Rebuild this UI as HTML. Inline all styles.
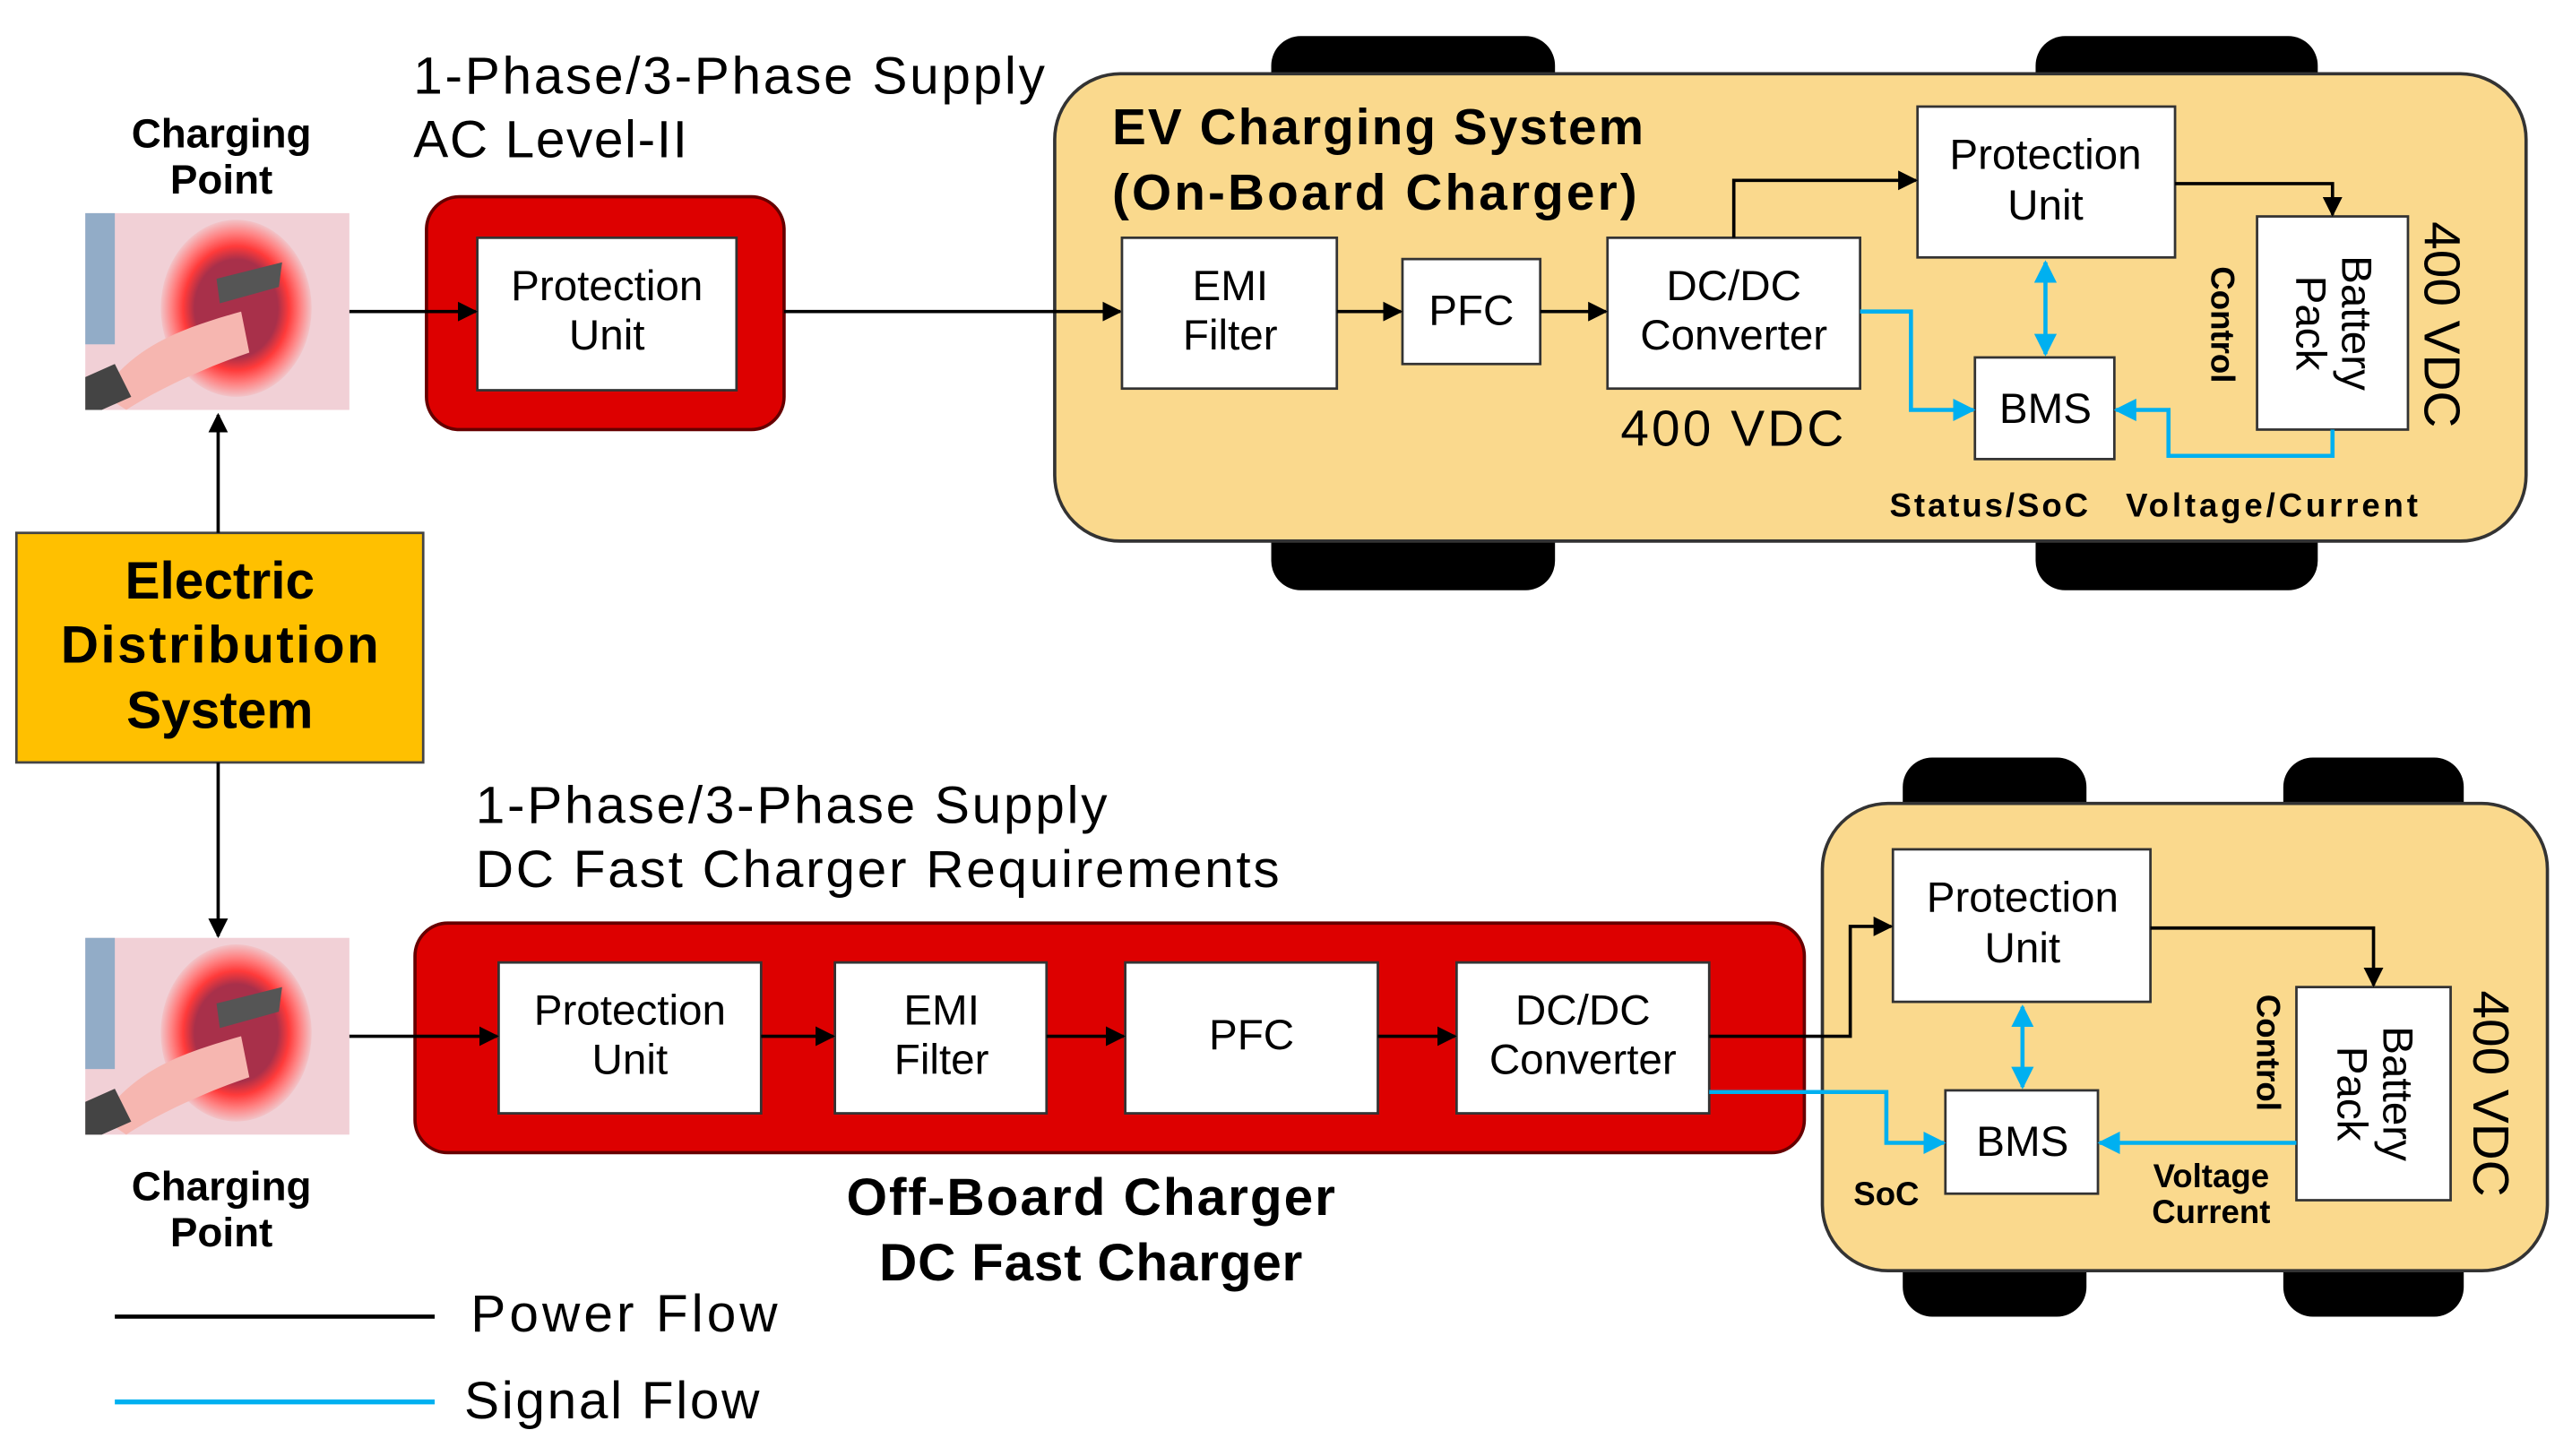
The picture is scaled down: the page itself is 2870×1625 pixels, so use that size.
<!DOCTYPE html>
<html><head><meta charset="utf-8"><style>
html,body{margin:0;padding:0;background:#fff;}
svg{display:block;}
text{font-family:"Liberation Sans",sans-serif;}
.b{font-weight:bold;}
</style></head><body>
<svg width="2870" height="1625" viewBox="0 0 1568 888" preserveAspectRatio="none" xmlns="http://www.w3.org/2000/svg">
<defs>
<marker id="ak" viewBox="0 0 10 10" refX="9" refY="5" markerWidth="6" markerHeight="6" orient="auto-start-reverse"><path d="M0,0L10,5L0,10z" fill="#000"/></marker>
<marker id="ab" viewBox="0 0 10 10" refX="9" refY="5" markerWidth="5.5" markerHeight="5.5" orient="auto-start-reverse"><path d="M0,0L10,5L0,10z" fill="#00b0f0"/></marker>
<radialGradient id="rg" cx="0.5" cy="0.5" r="0.5"><stop offset="0.55" stop-color="#a8304a"/><stop offset="0.7" stop-color="#ff3a3a"/><stop offset="0.85" stop-color="#ff8080"/><stop offset="1" stop-color="#f2c4c8"/></radialGradient>
<g id="chg">
<rect x="0" y="0" width="161" height="120" fill="#f1d0d6"/>
<rect x="0" y="0" width="18" height="80" fill="#6a9cc0" opacity="0.7"/>
<ellipse cx="92" cy="58" rx="46" ry="54" fill="url(#rg)"/>
<path d="M10,110 C30,80 60,70 95,60 L100,85 C70,95 40,110 25,120 Z" fill="#f6b6b0"/>
<path d="M0,100 L18,92 L28,112 L10,120 L0,120Z" fill="#444"/>
<path d="M80,40 L120,30 L118,45 L82,55Z" fill="#555"/>
</g>
</defs>
<!-- top -->
<text x="135" y="90" font-size="25" class="b" text-anchor="middle">Charging</text>
<text x="135" y="118" font-size="25" class="b" text-anchor="middle">Point</text>
<use href="#chg" x="52" y="130"/>
<text x="252" y="57" font-size="32" textLength="385">1-Phase/3-Phase Supply</text>
<text x="252" y="96" font-size="32" textLength="167">AC Level-II</text>
<rect x="260" y="120" width="218" height="142" rx="20" fill="#dd0000" stroke="#600" stroke-width="2"/>
<rect x="291" y="145" width="158" height="93" fill="#fff" stroke="#333" stroke-width="1.5"/>
<text x="370" y="183" font-size="26" text-anchor="middle">Protection</text>
<text x="370" y="213" font-size="26" text-anchor="middle">Unit</text>
<!-- car top -->
<rect x="775" y="22" width="173" height="60" rx="18" fill="#000"/>
<rect x="1241" y="22" width="172" height="60" rx="18" fill="#000"/>
<rect x="775" y="300" width="173" height="60" rx="18" fill="#000"/>
<rect x="1241" y="300" width="172" height="60" rx="18" fill="#000"/>
<rect x="643" y="45" width="897" height="285" rx="40" fill="#fad98d" stroke="#333" stroke-width="2"/>
<g stroke="#000" stroke-width="2" fill="none" marker-end="url(#ak)">
<line x1="213" y1="190" x2="290" y2="190"/>
<line x1="478" y1="190" x2="683" y2="190"/>
</g>
<text x="678" y="88" font-size="31" class="b" textLength="324">EV Charging System</text>
<text x="678" y="128" font-size="31" class="b" textLength="320">(On-Board Charger)</text>
<g fill="#fff" stroke="#333" stroke-width="1.5">
<rect x="684" y="145" width="131" height="92"/>
<rect x="855" y="158" width="84" height="64"/>
<rect x="980" y="145" width="154" height="92"/>
<rect x="1169" y="65" width="157" height="92"/>
<rect x="1376" y="132" width="92" height="130"/>
<rect x="1204" y="218" width="85" height="62"/>
</g>
<g font-size="26" text-anchor="middle">
<text x="750" y="183">EMI</text><text x="750" y="213">Filter</text>
<text x="897" y="198">PFC</text>
<text x="1057" y="183">DC/DC</text><text x="1057" y="213">Converter</text>
<text x="1247" y="103">Protection</text><text x="1247" y="134">Unit</text>
<text x="1247" y="258">BMS</text>
<text transform="translate(1422,197) rotate(90)"><tspan x="0" y="-6">Battery</tspan><tspan x="0" y="22">Pack</tspan></text>
</g>
<text x="988" y="272" font-size="31" textLength="136">400 VDC</text>
<text transform="translate(1478,198) rotate(90)" font-size="31" text-anchor="middle">400 VDC</text>
<text transform="translate(1348,198) rotate(90)" font-size="20" class="b" text-anchor="middle">Control</text>
<text x="1152" y="315" font-size="20" class="b" textLength="121">Status/SoC</text>
<text x="1296" y="315" font-size="20" class="b" textLength="178">Voltage/Current</text>
<g stroke="#000" stroke-width="2" fill="none" marker-end="url(#ak)">
<line x1="815" y1="190" x2="854" y2="190"/>
<line x1="939" y1="190" x2="979" y2="190"/>
<polyline points="1057,145 1057,110 1168,110"/>
<polyline points="1326,112 1422,112 1422,131"/>
</g>
<g stroke="#00b0f0" stroke-width="2.5" fill="none" marker-end="url(#ab)">
<polyline points="1134,190 1165,190 1165,250 1203,250"/>
<polyline points="1422,262 1422,278 1322,278 1322,250 1290,250"/>
<line x1="1247" y1="160" x2="1247" y2="216" marker-start="url(#ab)"/>
</g>
<!-- EDS -->
<rect x="10" y="325" width="248" height="140" fill="#ffc000" stroke="#444" stroke-width="1.5"/>
<g font-size="32" class="b" text-anchor="middle">
<text x="134" y="365">Electric</text><text x="134" y="404" textLength="194">Distribution</text><text x="134" y="444">System</text>
</g>
<g stroke="#000" stroke-width="2" fill="none" marker-end="url(#ak)">
<line x1="133" y1="325" x2="133" y2="253"/>
<line x1="133" y1="465" x2="133" y2="571"/>
</g>
<!-- bottom -->
<text x="290" y="502" font-size="32" textLength="385">1-Phase/3-Phase Supply</text>
<text x="290" y="541" font-size="32" textLength="490">DC Fast Charger Requirements</text>
<use href="#chg" x="52" y="572"/>
<text x="135" y="732" font-size="25" class="b" text-anchor="middle">Charging</text>
<text x="135" y="760" font-size="25" class="b" text-anchor="middle">Point</text>
<rect x="253" y="563" width="847" height="140" rx="20" fill="#dd0000" stroke="#600" stroke-width="2"/>
<g fill="#fff" stroke="#333" stroke-width="1.5">
<rect x="304" y="587" width="160" height="92"/>
<rect x="509" y="587" width="129" height="92"/>
<rect x="686" y="587" width="154" height="92"/>
<rect x="888" y="587" width="154" height="92"/>
</g>
<g font-size="26" text-anchor="middle">
<text x="384" y="625">Protection</text><text x="384" y="655">Unit</text>
<text x="574" y="625">EMI</text><text x="574" y="655">Filter</text>
<text x="763" y="640">PFC</text>
<text x="965" y="625">DC/DC</text><text x="965" y="655">Converter</text>
</g>
<g stroke="#000" stroke-width="2" fill="none" marker-end="url(#ak)">
<line x1="213" y1="632" x2="303" y2="632"/>
<line x1="464" y1="632" x2="508" y2="632"/>
<line x1="638" y1="632" x2="685" y2="632"/>
<line x1="840" y1="632" x2="887" y2="632"/>
</g>
<text x="665" y="741" font-size="32" class="b" text-anchor="middle" textLength="298">Off-Board Charger</text>
<text x="665" y="781" font-size="32" class="b" text-anchor="middle" textLength="258">DC Fast Charger</text>
<!-- car bottom -->
<rect x="1160" y="462" width="112" height="60" rx="18" fill="#000"/>
<rect x="1392" y="462" width="110" height="60" rx="18" fill="#000"/>
<rect x="1160" y="745" width="112" height="58" rx="18" fill="#000"/>
<rect x="1392" y="745" width="110" height="58" rx="18" fill="#000"/>
<rect x="1111" y="490" width="442" height="285" rx="40" fill="#fad98d" stroke="#333" stroke-width="2"/>
<g fill="#fff" stroke="#333" stroke-width="1.5">
<rect x="1154" y="518" width="157" height="93"/>
<rect x="1400" y="602" width="94" height="130"/>
<rect x="1186" y="665" width="93" height="63"/>
</g>
<g font-size="26" text-anchor="middle">
<text x="1233" y="556">Protection</text><text x="1233" y="587">Unit</text>
<text x="1233" y="705">BMS</text>
<text transform="translate(1447,667) rotate(90)"><tspan x="0" y="-6">Battery</tspan><tspan x="0" y="22">Pack</tspan></text>
</g>
<text transform="translate(1508,667) rotate(90)" font-size="31" text-anchor="middle">400 VDC</text>
<text transform="translate(1376,642) rotate(90)" font-size="20" class="b" text-anchor="middle">Control</text>
<text x="1130" y="735" font-size="20" class="b">SoC</text>
<text x="1348" y="724" font-size="20" class="b" text-anchor="middle">Voltage</text>
<text x="1348" y="746" font-size="20" class="b" text-anchor="middle">Current</text>
<g stroke="#000" stroke-width="2" fill="none" marker-end="url(#ak)">
<polyline points="1042,632 1128,632 1128,565 1153,565"/>
<polyline points="1311,566 1447,566 1447,601"/>
</g>
<g stroke="#00b0f0" stroke-width="2.5" fill="none" marker-end="url(#ab)">
<polyline points="1042,666 1150,666 1150,697 1185,697"/>
<line x1="1400" y1="697" x2="1280" y2="697"/>
<line x1="1233" y1="614" x2="1233" y2="663" marker-start="url(#ab)"/>
</g>
<!-- legend -->
<line x1="70" y1="803" x2="265" y2="803" stroke="#000" stroke-width="2.5"/>
<text x="287" y="812" font-size="32" textLength="187">Power Flow</text>
<line x1="70" y1="855" x2="265" y2="855" stroke="#00b0f0" stroke-width="3"/>
<text x="283" y="865" font-size="32" textLength="180">Signal Flow</text>
</svg>
</body></html>
